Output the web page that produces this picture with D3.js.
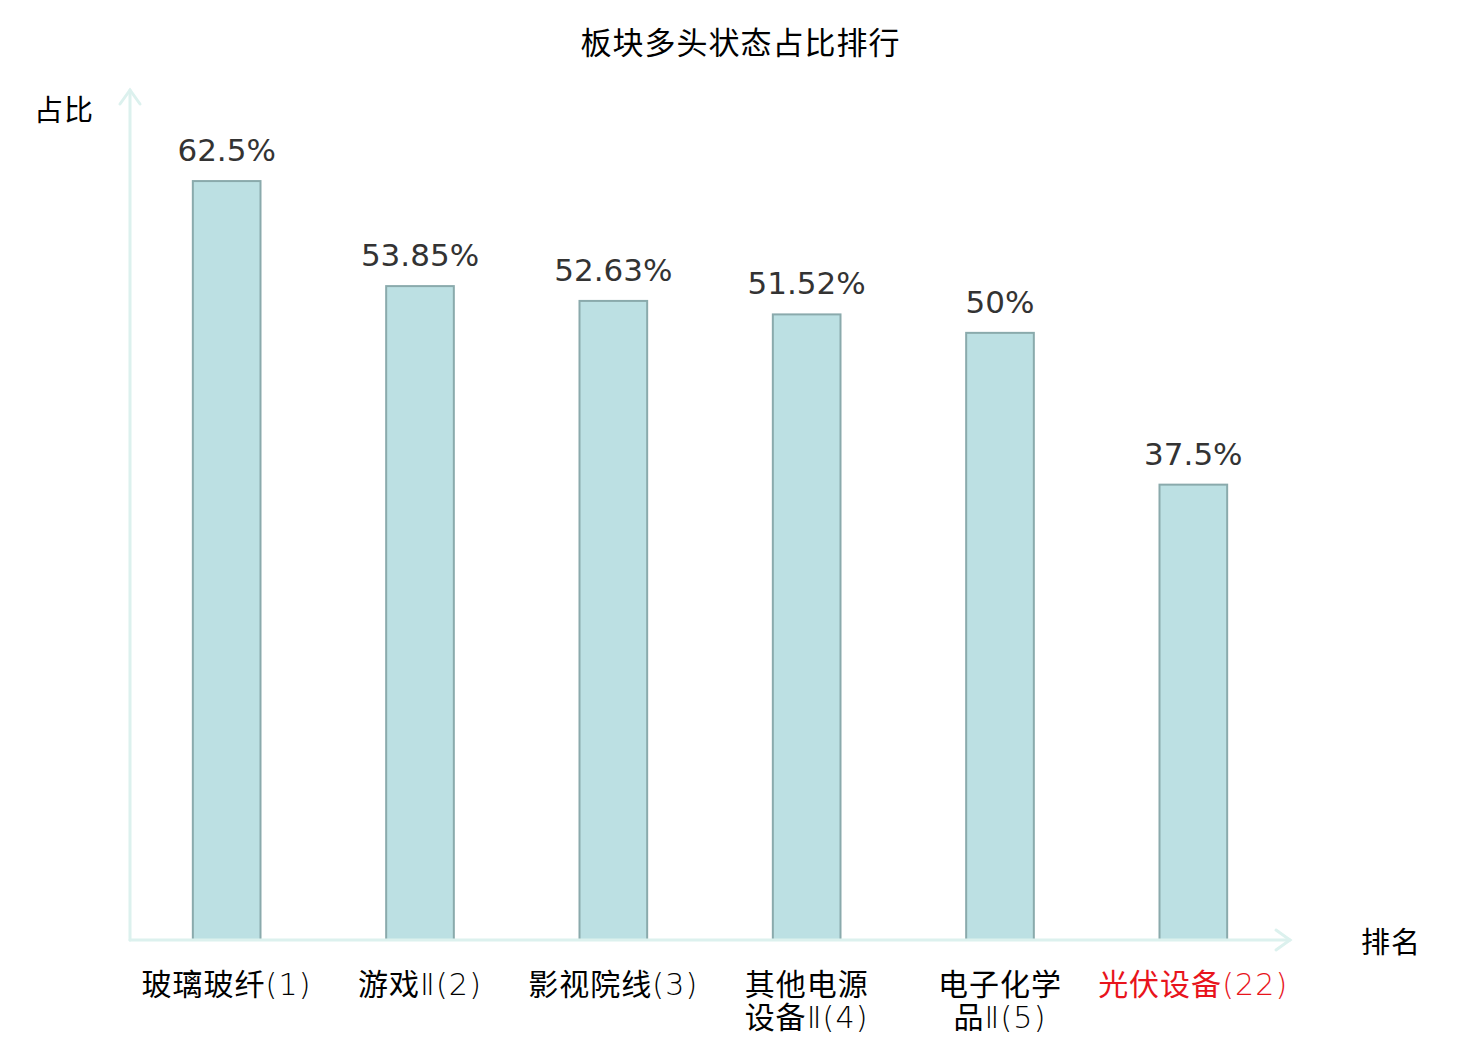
<!DOCTYPE html>
<html><head><meta charset="utf-8">
<script src="https://cdn.jsdelivr.net/npm/d3@7"></script>
<style>body{margin:0;background:#fff}</style>
</head><body>
<script>
const categories = ["玻璃玻纤(1)", "游戏Ⅱ(2)", "影视院线(3)", "其他电源\n设备Ⅱ(4)", "电子化学\n品Ⅱ(5)", "光伏设备(22)"];
const values = [62.5, 53.85, 52.63, 51.52, 50, 37.5];
const valueLabels = ["62.5%", "53.85%", "52.63%", "51.52%", "50%", "37.5%"];
const highlighted = [false, false, false, false, false, true];
const title = "板块多头状态占比排行";
const yName = "占比", xName = "排名";

const W = 1480, H = 1040;
const svg = d3.select("body").append("svg").attr("width", W).attr("height", H);
const cjk = "'Noto Sans CJK SC', sans-serif";
const x0 = 130, x1 = 1290, yBase = 940, yTop = 90;
const x = d3.scaleBand().domain(categories).range([x0, x1]).paddingInner(0.65).paddingOuter(0.325);
const y = d3.scaleLinear().domain([0, 70]).range([yBase, yTop]);

svg.append("text").attr("x", 740.5).attr("y", 54).attr("text-anchor", "middle")
  .style("font-family", cjk).style("font-size", "31px").style("letter-spacing", "1px")
  .attr("fill", "#000").text(title);

// bars
svg.selectAll("rect.bar").data(values).join("rect").attr("class", "bar")
  .attr("x", (d, i) => x(categories[i])).attr("width", x.bandwidth())
  .attr("y", d => y(d)).attr("height", d => yBase - y(d))
  .attr("fill", "#bce0e3").attr("stroke", "#8aaaac").attr("stroke-width", 2);

svg.selectAll("text.val").data(values).join("text").attr("class", "val")
  .attr("x", (d, i) => x(categories[i]) + x.bandwidth() / 2).attr("y", d => y(d) - 20)
  .attr("text-anchor", "middle").style("font-family", "'DejaVu Sans', sans-serif")
  .style("font-size", "31px").attr("fill", "#333").text((d, i) => valueLabels[i]);

// axes
const axisColor = "#dcf1ee";
const ax = svg.append("g").attr("stroke", axisColor).attr("stroke-width", 3).attr("fill", "none").attr("stroke-linecap", "round");
ax.append("line").attr("x1", x0).attr("y1", yBase).attr("x2", x0).attr("y2", yTop);
ax.append("path").attr("d", `M${x0 - 10},${yTop + 14}L${x0},${yTop}L${x0 + 10},${yTop + 14}`);
ax.append("line").attr("x1", x0).attr("y1", yBase).attr("x2", x1).attr("y2", yBase);
ax.append("path").attr("d", `M${x1 - 14},${yBase - 10}L${x1},${yBase}L${x1 - 14},${yBase + 10}`);

svg.append("text").attr("x", 34).attr("y", 121)
  .style("font-family", cjk).style("font-size", "29px").style("letter-spacing", "1px").text(yName);
svg.append("text").attr("x", 1361).attr("y", 953)
  .style("font-family", cjk).style("font-size", "29px").style("letter-spacing", "1px").text(xName);

// tick labels (CJK runs in Noto Sans CJK, other runs in a thin Latin face)
categories.forEach((cat, i) => {
  const cx = x(cat) + x.bandwidth() / 2;
  cat.split("\n").forEach((line, k) => {
    const t = svg.append("text").attr("class", "tick")
      .attr("x", cx).attr("y", 995 + k * 33)
      .attr("text-anchor", "middle").style("font-size", "30px")
      .attr("fill", highlighted[i] ? "#e8141c" : "#000");
    (line.match(/[\u4e00-\u9fff]+|[^\u4e00-\u9fff]+/g) || []).forEach(run => {
      const isCjk = /[\u4e00-\u9fff]/.test(run);
      t.append("tspan").text(run)
        .style("font-family", isCjk ? cjk : "'DejaVu Sans', sans-serif")
        .style("font-weight", isCjk ? 400 : 200)
        .style("letter-spacing", isCjk ? "1px" : "1.2px");
    });
  });
});
</script>
</body></html>
